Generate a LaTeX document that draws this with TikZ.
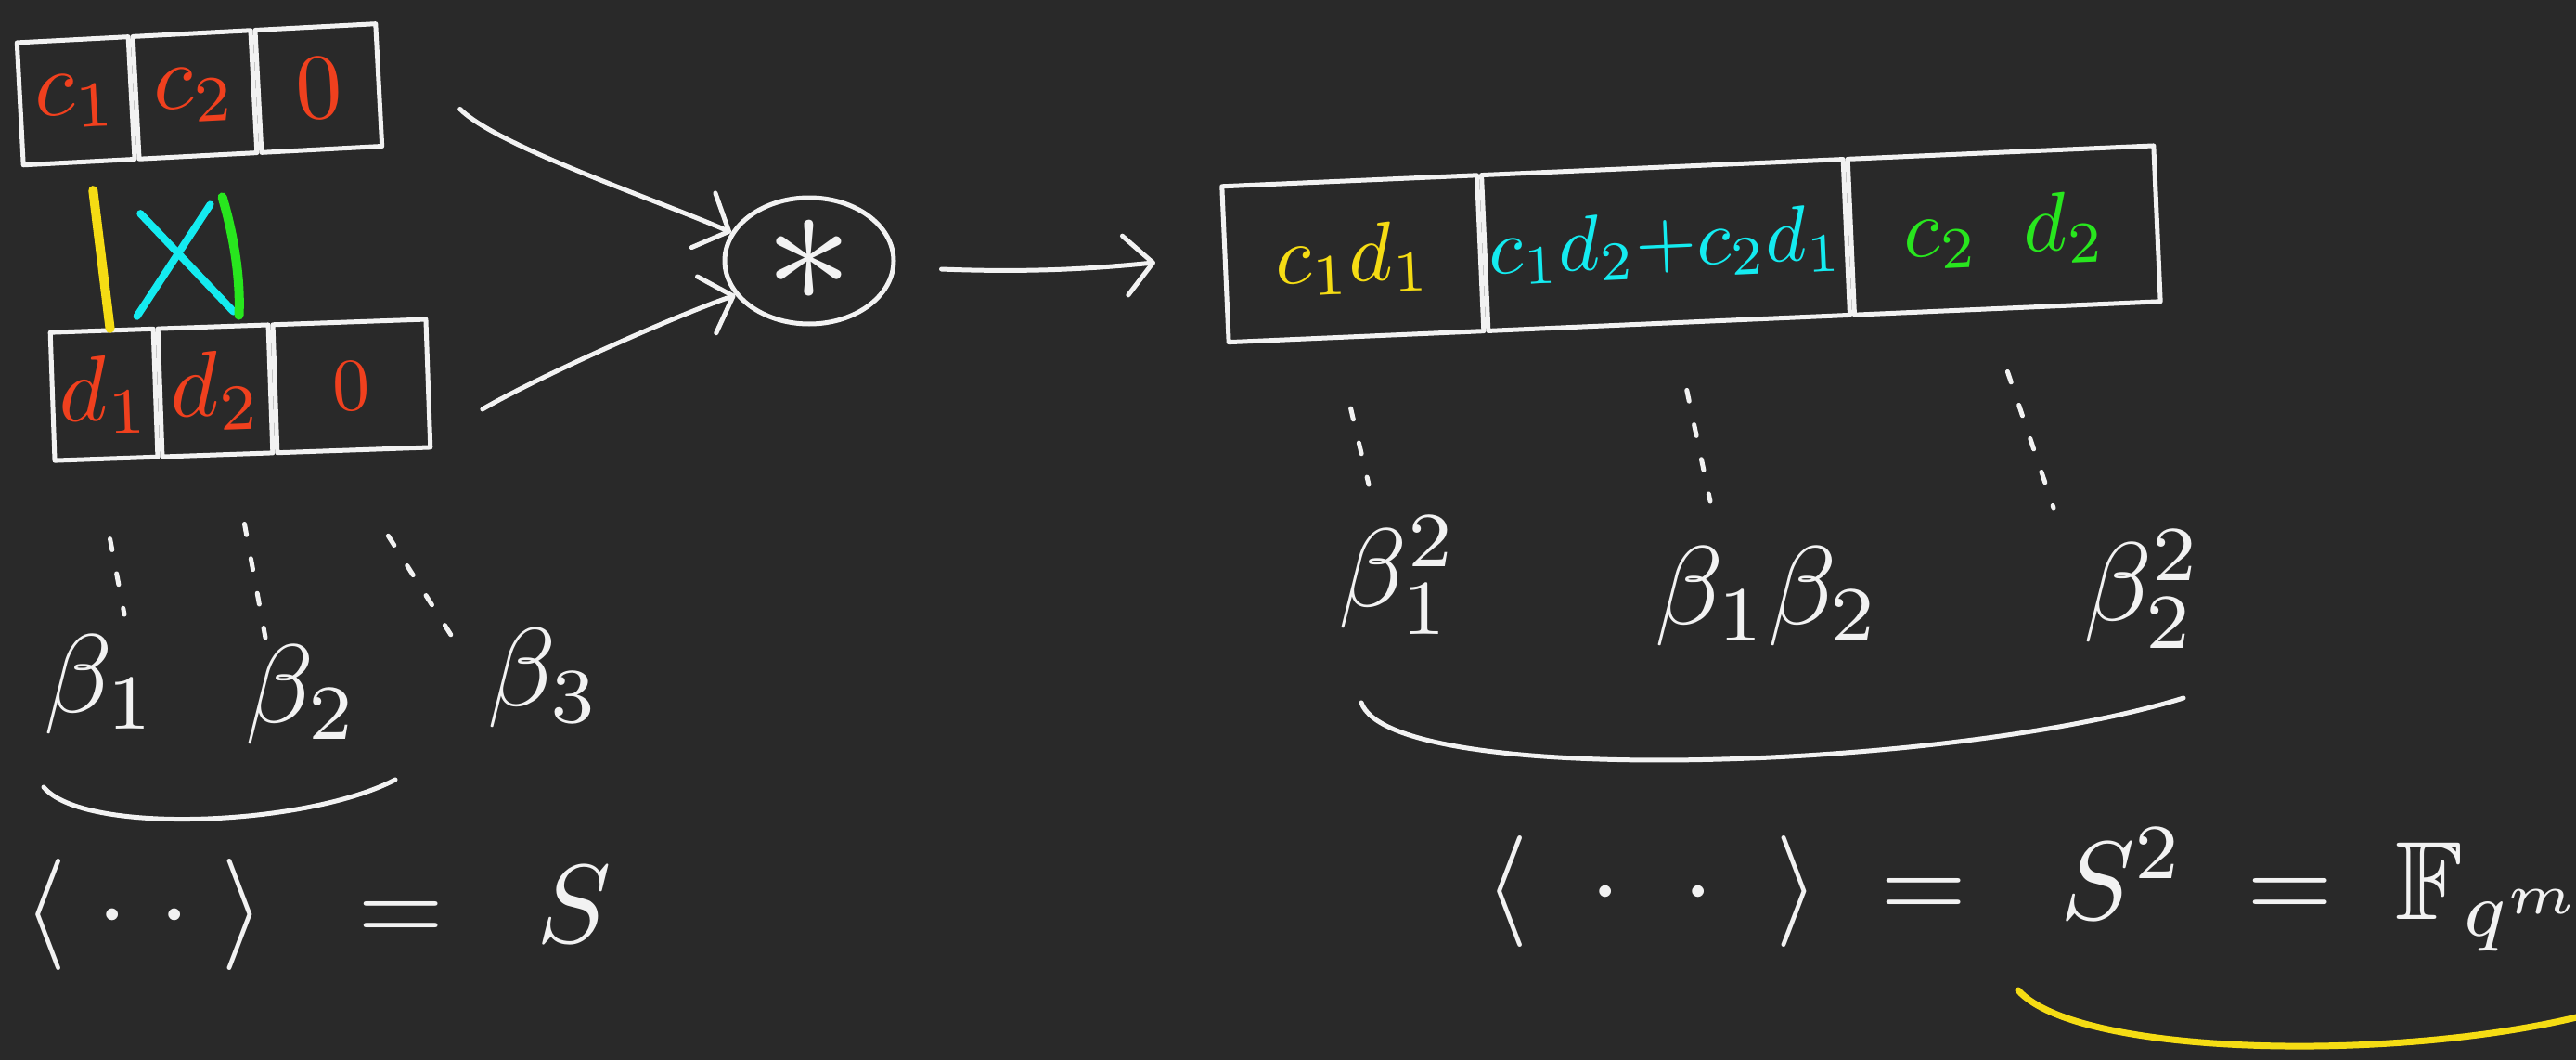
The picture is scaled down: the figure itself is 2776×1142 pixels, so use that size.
\documentclass[tikz,border=0pt]{standalone}
\usepackage{amssymb}
\usetikzlibrary{arrows.meta,shapes.geometric,calc}
\definecolor{board}{HTML}{292929}
\definecolor{chalk}{HTML}{F2F2F2}
\definecolor{inkred}{HTML}{F0401E}
\definecolor{inkyellow}{HTML}{F5DC14}
\definecolor{inkcyan}{HTML}{14EBF0}
\definecolor{inkgreen}{HTML}{28E61E}

\begin{document}
\begin{tikzpicture}[x=1pt,y=-1pt,
  pen/.style={draw=chalk,line width=5pt,line cap=round,line join=round},
  cell/.style={pen,rectangle,inner sep=0pt},
  topcell/.style={cell,rotate=3,minimum height=132pt,text=inkred},
  botcell/.style={cell,rotate=2,minimum height=138pt,text=inkred},
  prodcell/.style={cell,rotate=2.5,minimum height=168pt},
  arr/.style={pen,-{Straight Barb[length=30pt,width=64pt,line width=5pt,round]}},
  dots/.style={pen,dash pattern=on 12pt off 26pt},
  marker/.style={line width=10pt,line cap=round},
  lbl/.style={text=chalk,inner sep=0pt},
]
% board
\clip (0,0) rectangle (2776,1142);
\fill[board] (0,0) rectangle (2776,1142);

% first factor
\node[topcell,minimum width=127pt] (a2) at (210,102) {\scalebox{10}{$c_2$}};
\node[topcell,minimum width=120pt,anchor=east] (a1) at (a2.west) {\scalebox{10}{$c_1$}};
\node[topcell,minimum width=130pt,anchor=west] (a3) at (a2.east) {\scalebox{10}{$0$}};

% second factor
\node[botcell,minimum width=119pt] (b2) at (232,421) {\scalebox{10}{$d_2$}};
\node[botcell,minimum width=111pt,anchor=east] (b1) at (b2.west) {\scalebox{10}{$d_1$}};
\node[botcell,minimum width=165pt,anchor=west] (b3) at (b2.east) {\scalebox{8}{$0$}};

% pairings of coefficients
\draw[marker,inkyellow] ($(a1.south)+(15,28)$) -- ($(b1.north)+(9,0)$);
\draw[marker,inkcyan,line width=8pt] ($(a1.south)+(66,53)$) -- ($(b2.north)+(22,-14)$);
\draw[marker,inkcyan,line width=8pt] ($(a2.south)+(13,50)$) -- ($(b1.north)+(38,-13)$);
\draw[marker,inkgreen] ($(a2.south)+(26,42)$) .. controls +(12,40) and +(2,-40) .. ($(b2.north)+(28,-10)$);

% product operator
\node[pen,ellipse,minimum width=182pt,minimum height=136pt,inner sep=0pt] (mul) at (872,281) {\textcolor{chalk}{\scalebox{19}{$\ast$}}};

\draw[arr] ($(a3.east)+(85,26)$) .. controls +(40,40) and +(-80,-35) .. (mul.160);
\draw[arr] ($(b3.east)+(56,28)$) .. controls +(60,-35) and +(-60,20) .. (mul.205);

% product
\node[prodcell,minimum width=390pt,text=inkcyan] (r2) at (1795,264) {\scalebox{8.5}{$c_1d_2{+}c_2d_1$}};
\node[prodcell,minimum width=275pt,anchor=east,text=inkyellow] (r1) at (r2.west) {\scalebox{9}{$c_1d_1$}};
\node[prodcell,minimum width=330pt,anchor=west,text=inkgreen] (r3) at (r2.east) {\scalebox{9}{$c_2\;\;d_2$}};

\draw[arr] ($(mul.east)+(49,9)$) .. controls +(100,4) and +(-60,6) .. ($(r1.west)+(-73,-2)$);

% basis of the factors
\node[lbl] (be1) at (108,737) {\scalebox{12}{$\beta_1$}};
\node[lbl] (be2) at (325,748) {\scalebox{12}{$\beta_2$}};
\node[lbl] (be3) at (586,730) {\scalebox{12}{$\beta_3$}};
\draw[dots] ($(b1.south)+(4,84)$) -- ($(be1)+(26,-75)$);
\draw[dots] ($(b2.south)+(29,72)$) -- ($(be2)+(-39,-61)$);
\draw[dots] ($(b3.south)+(37,90)$) -- ($(be3)+(-95,-38)$);
\draw[pen] (47,848) .. controls (90,900) and (330,890) .. (426,840);
\node[lbl,anchor=base west] (spanS) at (25,1015) {\scalebox{12}{$\langle\;\cdot\;\cdot\;\rangle\;\;=\;\;S$}};

% basis of the product
\node[lbl] (sq1) at (1507,620) {\scalebox{12}{$\beta_1^{2}$}};
\node[lbl] (pr) at (1905,642) {\scalebox{12}{$\beta_1\beta_2$}};
\node[lbl] (sq2) at (2309,635) {\scalebox{12}{$\beta_2^{2}$}};
\draw[dots] ($(r1.south)+(-6,75)$) -- ($(sq1)+(-32,-98)$);
\draw[dots] ($(r2.south)+(19,70)$) -- ($(pr)+(-62,-102)$);
\draw[dots] ($(r3.south)+(0,66)$) -- ($(sq2)+(-96,-88)$);
\draw[pen] (1467,757) .. controls (1500,850) and (2100,830) .. (2353,752);
\node[lbl,anchor=base west] (spanS2) at (1600,990) {\scalebox{12}{$\langle\;\;\cdot\;\;\cdot\;\;\rangle\;=\;\;S^{2}\;=\;\mathbb{F}_{q^{m}}$}};
\draw[line width=7pt,line cap=round,inkyellow] (2175,1067) .. controls (2240,1140) and (2600,1145) .. (2800,1090);

\end{tikzpicture}
\end{document}
